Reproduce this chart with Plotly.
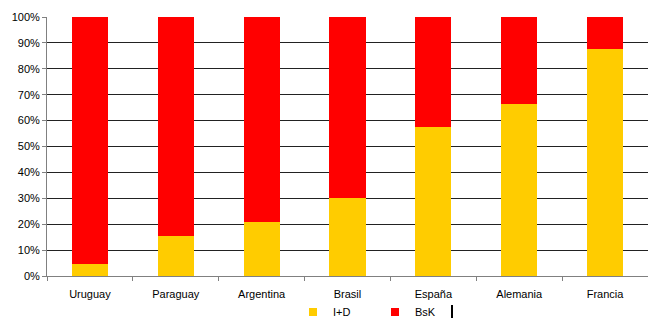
import plotly.graph_objects as go

countries = ["Uruguay", "Paraguay", "Argentina", "Brasil", "España", "Alemania", "Francia"]
i_d = [4.5, 15.3, 20.7, 30.0, 57.4, 66.3, 87.5]
bsk = [100 - v for v in i_d]
colors = {"I+D": "#FFCC00", "BsK": "#FF0000"}

fig = go.Figure()
fig.add_trace(go.Bar(x=countries, y=i_d, name="I+D", legendgroup="I+D", showlegend=False,
                     marker=dict(color=colors["I+D"], line=dict(width=0))))
fig.add_trace(go.Bar(x=countries, y=bsk, name="BsK", legendgroup="BsK", showlegend=False,
                     marker=dict(color=colors["BsK"], line=dict(width=0))))
for name in ["I+D", "BsK"]:
    fig.add_trace(go.Scatter(x=[None], y=[None], mode="markers", name=name, legendgroup=name,
                             marker=dict(symbol="square", size=8, color=colors[name])))

fig.update_layout(
    barmode="stack",
    bargap=0.58,
    width=648, height=320,
    margin=dict(l=47, r=0, t=17, b=44, autoexpand=False),
    plot_bgcolor="white", paper_bgcolor="white",
    font=dict(family="Liberation Sans, Arial, sans-serif", size=11, color="#000000"),
    showlegend=True,
    legend=dict(orientation="h", xref="container", yref="container",
                x=293 / 648, xanchor="left", y=8 / 320, yanchor="middle",
                font=dict(size=11), itemwidth=30, entrywidth=37, entrywidthmode="pixels",
                traceorder="normal", bgcolor="rgba(0,0,0,0)", borderwidth=0),
)
fig.update_yaxes(range=[0, 100], tickvals=list(range(0, 101, 10)),
                 ticktext=[f"{v}%" for v in range(0, 101, 10)],
                 showgrid=True, gridcolor="#222222", gridwidth=1,
                 showline=True, linecolor="#808080", linewidth=1,
                 ticks="outside", ticklen=4, tickcolor="#808080", zeroline=False,
                 automargin=False)
fig.update_xaxes(showline=True, linecolor="#808080", linewidth=1,
                 ticks="outside", ticklen=4, tickcolor="#808080", tickson="boundaries",
                 ticklabelstandoff=8, showgrid=False, automargin=False)
fig.add_shape(type="line", xref="paper", yref="paper", x0=(452 - 47) / 601, x1=(452 - 47) / 601,
              y0=(276 - 305) / 259, y1=(276 - 318) / 259, line=dict(color="black", width=2))

fig.write_html("out.html")
